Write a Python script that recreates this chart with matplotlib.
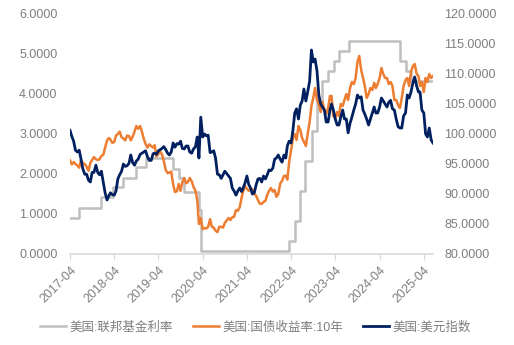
import numpy as np
import pandas as pd
import matplotlib
matplotlib.use('Agg')
import matplotlib.pyplot as plt
import matplotlib.dates as mdates

plt.rcParams['font.family'] = ['Liberation Sans', 'Noto Sans CJK SC', 'DejaVu Sans']

# Effective fed funds rate (step changes)
fed_dates = ['2017-04-01', '2017-06-15', '2017-12-14', '2018-03-22', '2018-06-14', '2018-09-27',
             '2018-12-20', '2019-08-01', '2019-09-19', '2019-10-31', '2020-03-04', '2020-03-16',
             '2022-03-17', '2022-05-05', '2022-06-16', '2022-07-28', '2022-09-22', '2022-11-03',
             '2022-12-15', '2023-02-02', '2023-03-23', '2023-05-04', '2023-07-27', '2024-09-19',
             '2024-11-08', '2024-12-19', '2025-06-16']
fed_rate = [0.91, 1.16, 1.42, 1.68, 1.91, 2.18,
            2.40, 2.13, 1.90, 1.55, 1.10, 0.08,
            0.33, 0.83, 1.58, 2.33, 3.08, 3.83,
            4.33, 4.58, 4.83, 5.08, 5.33, 4.83,
            4.58, 4.33, 4.33]

# 10y treasury yield, two readings per month (1st, 16th), Apr 2017 - Jun 2025
ust10 = [
    2.34, 2.24, 2.30, 2.25, 2.21, 2.16, 2.35, 2.27, 2.25, 2.18, 2.08, 2.28, 2.35, 2.42, 2.37, 2.35, 2.37, 2.45,
    2.48, 2.66, 2.84, 2.90, 2.86, 2.78, 2.80, 2.96, 3.00, 3.06, 2.92, 2.89, 2.84, 2.96, 2.95, 2.84, 2.94, 3.06,
    3.20, 3.13, 3.20, 3.06, 2.88, 2.75,
    2.66, 2.74, 2.70, 2.66, 2.72, 2.44, 2.50, 2.56, 2.49, 2.32, 2.10, 2.02, 2.04, 2.06, 1.74, 1.55, 1.57, 1.75,
    1.58, 1.80, 1.90, 1.77, 1.80, 1.90,
    1.82, 1.68, 1.58, 1.35, 0.75, 0.90, 0.62, 0.65, 0.64, 0.68, 0.87, 0.68, 0.66, 0.58, 0.55, 0.68, 0.68, 0.66,
    0.78, 0.84, 0.90, 0.85, 0.92, 0.93,
    1.10, 1.08, 1.17, 1.40, 1.57, 1.70, 1.63, 1.58, 1.62, 1.62, 1.50, 1.46, 1.35, 1.26, 1.25, 1.30, 1.33, 1.48,
    1.58, 1.65, 1.56, 1.60, 1.43, 1.50,
    1.76, 1.83, 1.95, 1.96, 1.86, 2.30, 2.60, 2.90, 3.00, 2.85, 3.20, 3.10, 2.90, 2.80, 2.70, 3.00, 3.30, 3.70,
    3.90, 4.15, 3.85, 3.75, 3.55, 3.80,
    3.60, 3.50, 3.65, 3.95, 3.95, 3.45, 3.40, 3.55, 3.45, 3.75, 3.70, 3.85, 4.00, 3.85, 4.15, 4.30, 4.25, 4.40,
    4.80, 4.95, 4.60, 4.40, 4.20, 3.90,
    4.00, 4.15, 4.10, 4.28, 4.15, 4.25, 4.40, 4.65, 4.50, 4.40, 4.40, 4.25, 4.30, 4.20, 3.85, 3.85, 3.72, 3.65,
    3.90, 4.20, 4.35, 4.40, 4.20, 4.55,
    4.70, 4.75, 4.50, 4.45, 4.20, 4.30, 4.05, 4.40, 4.30, 4.50, 4.40, 4.45,
]

# US dollar index, same dates
dxy = [
    100.6, 99.6, 98.8, 97.3, 97.0, 97.3, 95.8, 94.2, 93.3, 93.3, 92.3, 92.0, 93.6, 93.6, 94.8, 93.6, 93.2, 93.8,
    91.9, 90.2, 89.0, 89.7, 90.2, 89.9, 89.8, 90.5, 92.5, 93.2, 93.8, 95.0, 94.6, 94.7, 95.1, 96.5, 95.2, 94.8,
    95.5, 95.8, 96.6, 96.8, 97.0, 97.2,
    96.2, 95.6, 95.6, 96.7, 96.8, 96.6, 97.2, 97.4, 97.6, 97.9, 97.4, 96.8, 96.5, 97.0, 98.5, 97.8, 98.4, 98.3,
    98.8, 97.6, 97.5, 98.0, 98.0, 97.0,
    96.8, 97.5, 97.9, 99.5, 96.0, 102.8, 99.5, 100.0, 99.7, 99.8, 96.9, 97.0, 97.2, 96.0, 93.3, 93.2, 92.6, 93.2,
    93.8, 93.4, 93.0, 92.6, 91.0, 90.5,
    89.8, 90.5, 91.0, 90.4, 91.0, 91.8, 93.0, 91.6, 91.0, 90.0, 90.2, 91.5, 92.5, 92.6, 92.0, 93.0, 92.5, 93.2,
    94.0, 93.9, 94.3, 95.8, 96.0, 96.5,
    95.8, 95.3, 96.5, 96.0, 98.0, 98.8, 98.5, 100.6, 103.5, 104.2, 102.5, 104.8, 105.5, 107.5, 105.5, 107.0,
    108.8, 114.0, 112.0, 112.5, 110.5, 106.5, 105.0, 104.5,
    104.0, 102.0, 102.0, 104.0, 105.0, 104.0, 102.5, 101.5, 101.5, 102.8, 104.0, 102.5, 102.5, 100.2, 101.8, 102.8,
    104.0, 105.0, 106.5, 106.0, 106.2, 104.0, 103.3, 102.5,
    101.5, 102.5, 103.5, 104.5, 103.5, 103.5, 104.5, 106.0, 105.5, 105.0, 104.5, 105.3, 105.6, 104.2, 104.0, 102.5,
    101.2, 101.0, 101.0, 103.0, 103.5, 106.5, 106.0, 107.0,
    108.5, 109.5, 108.0, 107.0, 107.0, 104.0, 103.5, 100.0, 99.5, 101.0, 99.0, 98.5,
]

months = pd.date_range('2017-04-01', periods=len(ust10) // 2, freq='MS')
dates = []
for m in months:
    dates.append(m)
    dates.append(m + pd.Timedelta(days=15))
dates = pd.DatetimeIndex(dates)
fed_dt = pd.to_datetime(fed_dates)

left_labels = ['0.0000', '1.0000', '2.0000', '3.0000', '4.0000', '5.0000', '6.0000']
right_labels = ['80.0000', '85.0000', '90.0000', '95.0000', '100.0000', '105.0000',
                '110.0000', '115.0000', '120.0000']

grey_txt = '#7f7f7f'

fig = plt.figure(figsize=(5.14, 3.45), dpi=100)
ax = fig.add_axes([70 / 514, 1 - 254 / 345, 363 / 514, 240 / 345])
ax2 = ax.twinx()

l1, = ax.step(fed_dt, fed_rate, where='post', color='#bfbfbf', lw=1.8, label='美国:联邦基金利率')
l2, = ax.plot(dates, ust10, color='#ed7d31', lw=1.8, label='美国:国债收益率:10年')
l3, = ax2.plot(dates, dxy, color='#002060', lw=2.0, label='美国:美元指数')

ax.set_ylim(0, 6)
ax2.set_ylim(80, 120)
ax.set_yticks(np.arange(0, 7, 1))
ax.set_yticklabels(left_labels)
ax2.set_yticks(np.arange(80, 121, 5))
ax2.set_yticklabels(right_labels)

ax.set_xlim(pd.Timestamp('2017-04-01'), pd.Timestamp('2025-06-16'))
xt = pd.date_range('2017-04-01', '2025-04-01', freq='12MS')
ax.set_xticks(xt)
ax.xaxis.set_major_formatter(mdates.DateFormatter('%Y-%m'))
for lbl in ax.get_xticklabels():
    lbl.set_rotation(45)
    lbl.set_ha('right')
    lbl.set_rotation_mode('anchor')

for a in (ax, ax2):
    for s in a.spines.values():
        s.set_visible(False)
    a.tick_params(axis='y', length=0, labelsize=9, labelcolor=grey_txt)
ax.spines['bottom'].set_visible(True)
ax.spines['bottom'].set_color('#d9d9d9')
ax.spines['bottom'].set_linewidth(1.2)
ax.tick_params(axis='x', length=4, color='#d9d9d9', labelsize=9, labelcolor=grey_txt, pad=3)
ax.tick_params(axis='y', pad=9)
ax2.tick_params(axis='y', pad=8)

fig.legend(handles=[l1, l2, l3], loc='lower center', bbox_to_anchor=(0.497, 0.0), ncol=3,
           frameon=False, fontsize=9, handlelength=2.1, columnspacing=1.6, handletextpad=0.25,
           labelcolor=grey_txt)

fig.savefig('out.png', dpi=100)
